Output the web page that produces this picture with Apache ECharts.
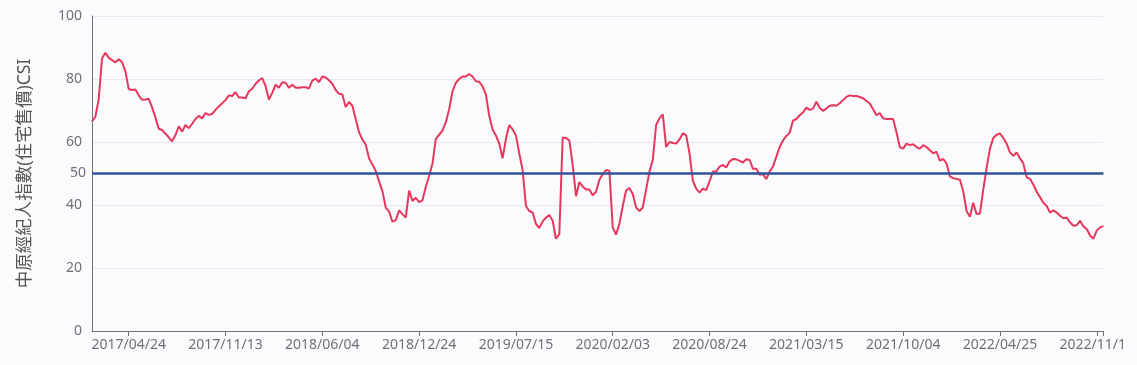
<!DOCTYPE html>
<html>
<head>
<meta charset="utf-8">
<script src="https://cdn.jsdelivr.net/npm/echarts@6/dist/echarts.min.js"></script>
<style>
html,body{margin:0;padding:0;background:#fbfbfd;}
#wrap{width:1125px;height:365px;overflow:hidden;}
#chart{width:1137px;height:365px;}
</style>
</head>
<body>
<div id="wrap"><div id="chart"></div></div>
<script>
// first week of the series (weekly data, Mondays)
const startDate = [2017, 2, 6];
const weekCount = 304;
const yTicks = [0, 20, 40, 60, 80, 100];
const refLevel = 50;
const axisName = '中原經紀人指數(住宅售價)CSI';

const csi = [
66.5,68.0,73.5,86.5,88.3,86.8,86.0,85.3,86.3,85.4,
82.5,76.8,76.5,76.7,74.8,73.4,73.5,73.7,71.0,67.8,
64.2,63.8,62.6,61.5,60.2,62.2,65.0,63.3,65.4,64.4,
65.8,67.3,68.3,67.5,69.2,68.6,68.9,70.2,71.3,72.3,
73.3,74.8,74.6,75.8,74.1,74.1,73.9,76.1,76.9,78.5,
79.5,80.3,77.7,73.5,75.6,78.2,77.2,79.0,78.8,77.2,
78.2,77.2,77.2,77.4,77.4,77.0,79.5,80.1,79.0,80.8,
80.5,79.6,78.5,76.5,75.3,75.1,71.1,72.7,71.5,67.3,
63.1,60.8,59.2,54.8,52.9,50.8,47.5,44.4,39.2,37.9,
34.7,35.2,38.3,37.1,36.0,44.6,41.3,42.3,40.9,41.5,
45.8,49.3,53.2,61.0,62.3,63.6,66.3,70.4,76.1,78.8,
80.0,80.8,80.8,81.6,80.8,79.3,79.1,77.7,75.1,68.3,
64.0,62.1,59.5,54.8,61.0,65.4,64.0,62.1,56.4,51.1,
39.7,38.1,37.6,34.0,32.7,34.8,36.0,36.8,35.0,29.3,
30.8,61.4,61.3,60.5,52.7,42.8,47.3,45.9,44.9,44.9,
43.1,44.2,48.0,49.8,51.1,50.9,32.9,30.6,34.0,39.7,
44.6,45.4,43.5,39.2,38.1,39.2,44.9,50.6,54.3,65.4,
67.5,68.8,58.4,60.0,59.7,59.5,60.8,62.8,62.1,56.4,
47.7,45.2,43.9,45.2,44.7,47.5,50.6,50.6,52.2,52.7,
51.9,53.8,54.6,54.5,54.0,53.5,54.5,54.3,51.5,51.5,
49.6,49.8,48.2,50.6,52.2,55.3,58.4,60.5,61.9,62.9,
66.8,67.3,68.5,69.4,70.9,70.2,70.6,72.8,70.9,69.9,
70.6,71.5,71.7,71.5,72.3,73.3,74.3,74.8,74.6,74.6,
74.3,73.9,73.0,72.2,70.4,68.5,69.2,67.5,67.3,67.3,
67.3,63.1,58.4,57.9,59.5,59.0,59.3,58.4,57.9,59.0,
58.4,57.4,56.4,56.9,54.1,54.6,53.2,49.1,48.5,48.3,
48.0,44.4,38.1,36.3,40.7,37.1,37.3,44.9,51.7,57.9,
61.3,62.3,62.7,61.3,59.5,56.7,55.6,56.7,54.8,53.2,
48.8,48.3,46.5,44.2,42.5,40.7,39.7,37.6,38.3,37.6,
36.6,35.8,36.0,34.5,33.4,33.6,35.0,33.2,32.4,30.3,
29.3,31.9,32.9,33.3
];

const labelFirst = 11;
const labelStep = 29;

function pad(n){return (n<10?'0':'')+n;}
const dates = [];
{
  const d = new Date(Date.UTC(startDate[0], startDate[1]-1, startDate[2]));
  for (let i = 0; i < weekCount; i++) {
    const t = new Date(d.getTime() + i*7*86400000);
    dates.push(t.getUTCFullYear()+'/'+pad(t.getUTCMonth()+1)+'/'+pad(t.getUTCDate()));
  }
}

const font = '"Noto Sans", "Noto Sans CJK TC", sans-serif';
const chart = echarts.init(document.getElementById('chart'), null, {renderer:'canvas'});
chart.setOption({
  backgroundColor: '#fbfbfd',
  animation: false,
  grid: {left: 92, right: 31, top: 16, bottom: 34},
  xAxis: {
    type: 'category',
    boundaryGap: false,
    data: dates,
    axisLine: {lineStyle: {color: '#6e7079', width: 1}},
    axisTick: {
      length: 5,
      lineStyle: {color: '#6e7079'},
      interval: function(i){ return (i - labelFirst) % labelStep === 0 || i === weekCount-1; }
    },
    axisLabel: {
      color: '#6e7079', fontSize: 14, fontFamily: font, margin: 7,
      interval: function(i){ return i >= labelFirst && (i - labelFirst) % labelStep === 0; }
    },
    splitLine: {show: false}
  },
  yAxis: {
    type: 'value',
    min: yTicks[0], max: yTicks[yTicks.length-1], interval: 20,
    name: axisName,
    nameLocation: 'middle',
    nameGap: 58,
    nameTextStyle: {color: '#555', fontSize: 17.5, fontFamily: font},
    axisLine: {show: true, lineStyle: {color: '#6e7079', width: 1}},
    axisTick: {show: false},
    axisLabel: {color: '#6e7079', fontSize: 14, fontFamily: font, margin: 10},
    splitLine: {lineStyle: {color: '#e6e9f2', width: 1}}
  },
  series: [{
    type: 'line',
    data: csi,
    showSymbol: false,
    symbol: 'none',
    lineStyle: {color: '#e6385c', width: 2},
    itemStyle: {color: '#e6385c'},
    markLine: {
      silent: true,
      symbol: ['none','none'],
      data: [{yAxis: refLevel}],
      lineStyle: {color: '#2f5597', width: 2.5, type: 'solid'},
      label: {position: 'start', color: '#6e7079', fontSize: 14, fontFamily: font, distance: 6, formatter: '{c}'}
    },
    z: 3
  }]
});
</script>
</body>
</html>
